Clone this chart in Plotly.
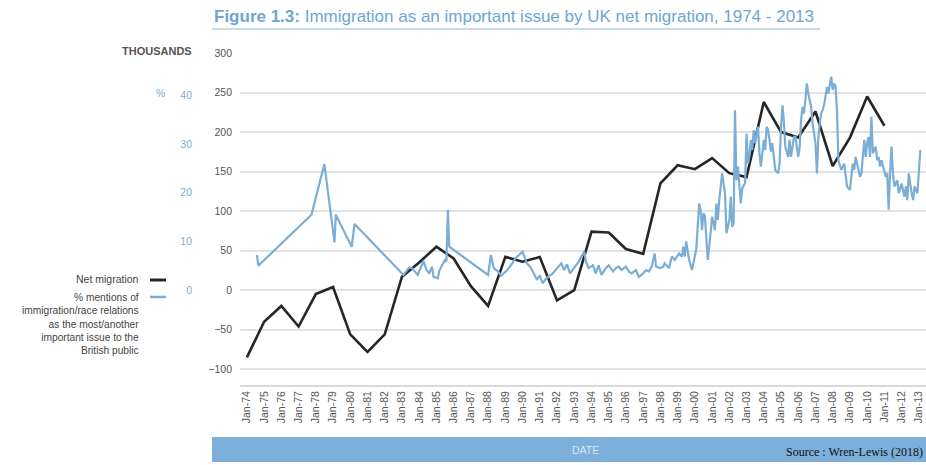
import plotly.graph_objects as go

# ---------------- data ----------------
net_years = list(range(1974, 2012))
net_migration = [-85, -40, -20, -46, -5, 4, -56, -78, -56, 17, 35, 55, 40, 5, -20, 42, 36, 42,
                 -13, 0, 74, 73, 52, 46, 135, 158, 153, 167, 148, 143, 238, 200, 193, 226, 157,
                 193, 245, 208]

pct_dates = [
    "1974-08", "1974-09", "1977-10", "1978-07", "1979-02", "1979-03", "1980-02", "1980-04",
    "1983-02", "1983-04", "1983-06", "1983-08", "1983-12", "1984-02", "1984-04", "1984-06",
    "1984-08", "1984-10", "1984-11", "1985-02", "1985-03", "1985-05", "1985-07", "1985-08",
    "1985-09", "1985-10", "1988-01", "1988-03", "1988-05", "1988-08", "1988-10", "1989-02",
    "1989-05", "1989-08", "1990-01", "1990-04", "1990-07", "1990-11", "1991-01", "1991-03",
    "1991-06", "1991-10", "1992-01", "1992-02", "1992-04", "1992-06", "1992-08", "1992-10",
    "1993-01", "1993-04", "1993-08", "1993-09", "1993-11", "1994-02", "1994-04", "1994-06",
    "1994-08", "1994-11", "1995-01", "1995-04", "1995-06", "1995-08", "1995-10", "1996-01",
    "1996-03", "1996-05", "1996-08", "1996-10", "1997-01", "1997-03", "1997-05", "1997-07",
    "1997-09", "1997-10", "1998-01", "1998-03", "1998-04", "1998-07", "1998-09", "1998-11",
    "1999-02", "1999-04", "1999-05", "1999-06", "1999-07", "1999-08", "1999-09", "1999-11",
    "2000-01", "2000-02", "2000-04", "2000-05", "2000-06", "2000-07", "2000-08", "2000-09",
    "2000-10", "2000-11", "2001-01", "2001-02", "2001-03", "2001-04", "2001-05", "2001-06",
    "2001-08", "2001-10", "2001-11", "2002-01", "2002-02", "2002-03", "2002-04", "2002-05",
    "2002-06", "2002-07", "2002-08", "2002-09", "2002-10", "2002-12", "2003-01", "2003-02",
    "2003-03", "2003-04", "2003-05", "2003-06", "2003-07", "2003-09", "2003-10", "2003-11",
    "2004-01", "2004-02", "2004-03", "2004-04", "2004-05", "2004-06", "2004-07", "2004-08",
    "2004-09", "2004-11", "2004-12", "2005-01", "2005-02", "2005-03", "2005-04", "2005-06",
    "2005-07", "2005-08", "2005-09", "2005-10", "2005-11", "2006-01", "2006-02", "2006-03",
    "2006-04", "2006-05", "2006-06", "2006-07", "2006-08", "2006-10", "2006-11", "2007-01",
    "2007-02", "2007-03", "2007-04", "2007-05", "2007-06", "2007-07", "2007-08", "2007-09",
    "2007-10", "2007-12", "2008-01", "2008-02", "2008-03", "2008-04", "2008-05", "2008-06",
    "2008-07", "2008-09", "2008-10", "2008-11", "2009-01", "2009-02", "2009-03", "2009-04",
    "2009-05", "2009-06", "2009-07", "2009-08", "2009-09", "2009-11", "2009-12", "2010-01",
    "2010-02", "2010-03", "2010-04", "2010-05", "2010-07", "2010-08", "2010-09", "2010-10",
    "2010-11", "2011-01", "2011-02", "2011-03", "2011-04", "2011-05", "2011-06", "2011-07",
    "2011-08", "2011-10", "2011-11", "2012-01", "2012-02", "2012-03", "2012-04", "2012-05",
    "2012-06", "2012-07", "2012-08", "2012-09", "2012-10", "2012-12", "2013-01", "2013-02",
]
pct_mentions = [
    7.2, 5.0, 15.5, 25.9, 9.8, 15.5, 8.9, 13.6,
    3.1, 3.8, 4.6, 4.5, 3.1, 4.5, 6.0, 4.2,
    3.4, 4.8, 2.7, 2.4, 3.9, 5.1, 6.2, 5.8,
    16.5, 8.9, 3.1, 7.2, 4.5, 3.8, 2.9, 4.0,
    5.1, 6.5, 7.9, 5.5, 4.5, 2.1, 3.0, 1.4,
    2.5, 3.4, 4.5, 4.8, 5.5, 4.1, 5.3, 3.4,
    4.5, 5.8, 7.9, 6.0, 4.5, 5.1, 3.4, 5.1,
    3.1, 4.5, 5.1, 3.8, 4.5, 4.8, 4.1, 4.8,
    3.8, 3.4, 4.1, 2.7, 3.4, 4.1, 3.8, 4.8,
    7.5, 4.8, 4.5, 4.8, 5.5, 4.5, 6.9, 6.2,
    7.5, 6.9, 8.9, 6.9, 10.0, 7.9, 6.2, 4.1,
    6.9, 8.4, 17.8, 16.5, 12.3, 15.8, 15.1, 10.0,
    6.2, 8.9, 15.1, 13.7, 12.3, 17.8, 14.4, 18.5,
    24.0, 19.9, 11.7, 14.4, 19.2, 13.0, 13.7, 37.0,
    22.6, 25.4, 20.6, 17.8, 20.9, 22.0, 32.2, 26.0,
    27.4, 30.9, 28.8, 32.9, 30.2, 33.6, 28.1, 25.4,
    30.9, 28.8, 33.6, 32.9, 30.9, 28.5, 30.2, 26.7,
    24.7, 24.0, 26.0, 33.6, 38.0, 34.9, 29.5, 27.4,
    30.9, 27.4, 30.2, 31.5, 31.5, 27.4, 29.5, 34.9,
    37.7, 36.3, 39.1, 42.5, 40.4, 37.7, 34.3, 30.2,
    24.0, 30.9, 34.3, 36.3, 37.0, 38.0, 39.8, 41.8,
    40.4, 43.9, 41.2, 42.5, 41.8, 37.0, 26.7, 25.4,
    24.7, 26.0, 24.0, 21.3, 20.6, 24.0, 26.0, 24.7,
    27.4, 26.0, 24.7, 23.3, 24.0, 30.9, 27.4, 30.2,
    31.5, 27.4, 35.7, 28.1, 29.5, 26.7, 27.4, 25.4,
    26.7, 24.7, 23.3, 24.0, 16.5, 24.0, 29.5, 24.0,
    21.3, 22.6, 19.9, 21.9, 20.6, 19.2, 21.3, 18.5,
    24.0, 21.3, 19.9, 18.5, 21.3, 19.9, 24.7, 28.8,
]

thousand_ticks = [-100, -50, 0, 50, 100, 150, 200, 250, 300]
pct_ticks = [0, 10, 20, 30, 40]
year_ticks = [f"{y}-01-01" for y in range(1974, 2014)]

title_bold = "Figure 1.3:"
title_rest = " Immigration as an important issue by UK net migration, 1974 - 2013"
legend_net = "Net migration"
legend_pct = "% mentions of<br>immigration/race relations<br>as the most/another<br>important issue to the<br>British public"
source_text = "Source : Wren-Lewis (2018)"

# ---------------- layout helpers (page pixel coordinates) ----------------
W, H = 926, 465
T_PAGE, B_PAGE = 53, 385   # top / bottom of plot area on the page
PLOT_LEFT = 240
ZERO_PX = 290              # page row of the 0 line (both axes)
PX_PER_PCT = 4.86
BLUE = "#7aaed6"
BLACK = "#262626"
FONT = "Liberation Sans Narrow, Arial Narrow, Liberation Sans, Arial, sans-serif"


def px(xp):
    return xp / W


def py(yp):
    return (B_PAGE - yp) / (B_PAGE - T_PAGE)


fig = go.Figure()
fig.add_trace(go.Scatter(
    x=[f"{y}-01-01" for y in net_years], y=net_migration, mode="lines",
    line=dict(color=BLACK, width=2.6), name=legend_net, yaxis="y", showlegend=False))
fig.add_trace(go.Scatter(
    x=pct_dates, y=pct_mentions, mode="lines",
    line=dict(color=BLUE, width=2.2), name="% mentions", yaxis="y2", showlegend=False))

fig.update_layout(
    width=W, height=H,
    margin=dict(l=0, r=0, t=T_PAGE, b=H - B_PAGE, pad=0, autoexpand=False),
    paper_bgcolor="white", plot_bgcolor="white",
    font=dict(family=FONT, size=10, color="#555555"),
    xaxis=dict(
        domain=[px(PLOT_LEFT), 1], type="date", automargin=False,
        range=["1973-08-08", "2013-06-01"],
        tickvals=year_ticks, tickformat="%b-%y", tickangle=-90,
        tickfont=dict(size=10.5, color="#555555"), ticklabeloverflow="allow",
        showgrid=False, showline=True, linecolor="#d9d9d9", linewidth=2,
        ticks="", zeroline=False,
    ),
    yaxis=dict(
        range=[-120, 300], tickvals=thousand_ticks, automargin=False,
        showgrid=True, gridcolor="#e2e2e2", gridwidth=2,
        zeroline=False, showline=False, ticks="", ticklabelstandoff=7,
        tickfont=dict(size=10.5, color="#555555"),
    ),
    yaxis2=dict(
        overlaying="y", anchor="free", position=px(196), side="left", automargin=False,
        range=[-(B_PAGE - ZERO_PX) / PX_PER_PCT, (ZERO_PX - T_PAGE) / PX_PER_PCT],
        tickvals=pct_ticks, showgrid=False, zeroline=False, showline=False, ticks="",
        ticklabelstandoff=4, tickfont=dict(size=10.5, color=BLUE),
    ),
)

annotations = [
    dict(x=px(212), y=py(17), xref="paper", yref="paper", xanchor="left", yanchor="middle",
         text=f"<b>{title_bold}</b>{title_rest}", showarrow=False,
         font=dict(size=17, color="#6ea5d3")),
    dict(x=px(194), y=py(51), xref="paper", yref="paper", xanchor="right", yanchor="middle",
         text="<b>THOUSANDS</b>", showarrow=False, font=dict(size=11, color="#555555")),
    dict(x=px(167), y=py(93), xref="paper", yref="paper", xanchor="right", yanchor="middle",
         text="%", showarrow=False, font=dict(size=10.5, color=BLUE)),
    dict(x=px(141), y=py(279), xref="paper", yref="paper", xanchor="right", yanchor="middle",
         text=legend_net, showarrow=False, font=dict(size=10.5, color="#444444")),
    dict(x=px(141), y=py(290), xref="paper", yref="paper", xanchor="right", yanchor="top",
         align="right", text=legend_pct, showarrow=False,
         font=dict(size=10.2, color="#444444")),
    dict(x=px(585), y=py(450), xref="paper", yref="paper", xanchor="center", yanchor="middle",
         text="DATE", showarrow=False, font=dict(size=10.5, color="#d6e6f4")),
    dict(x=px(925), y=py(452), xref="paper", yref="paper", xanchor="right", yanchor="middle",
         text=source_text, showarrow=False,
         font=dict(size=12, color="#111111", family="Liberation Serif, DejaVu Serif, serif")),
]

shapes = [
    # title underline
    dict(type="line", xref="paper", yref="paper", x0=px(212), x1=px(820), y0=py(29), y1=py(29),
         line=dict(color="#8fb8dc", width=1.2)),
    # legend keys
    dict(type="line", xref="paper", yref="paper", x0=px(150), x1=px(166), y0=py(280), y1=py(280),
         line=dict(color=BLACK, width=3)),
    dict(type="line", xref="paper", yref="paper", x0=px(150), x1=px(166), y0=py(297), y1=py(297),
         line=dict(color=BLUE, width=2.5)),
    # bottom DATE bar
    dict(type="rect", xref="paper", yref="paper", x0=px(212), x1=px(926), y0=py(462), y1=py(437),
         fillcolor="#7cafda", line=dict(width=0), layer="below"),
]

fig.update_layout(annotations=annotations, shapes=shapes)
fig.write_html("out.html", config={"displayModeBar": False},
               post_script="document.body.style.margin='0px';")
